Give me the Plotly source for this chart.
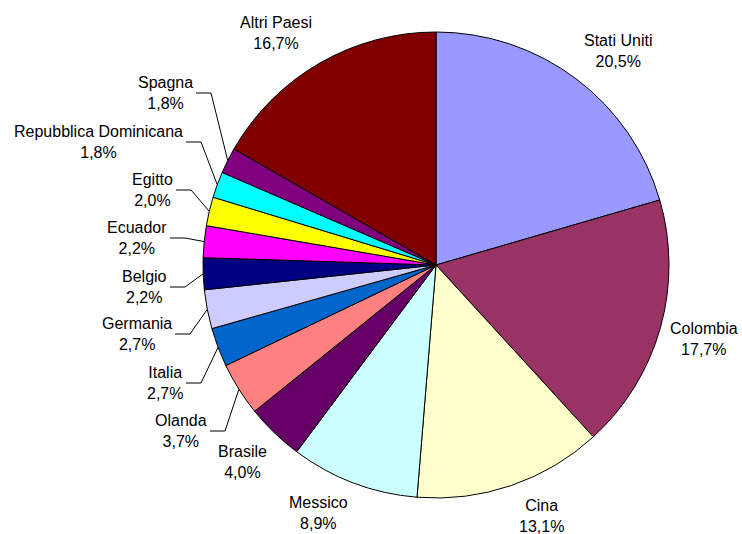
import math
import plotly.graph_objects as go

# ---- data ----
countries = ["Stati Uniti", "Colombia", "Cina", "Messico", "Brasile", "Olanda",
             "Italia", "Germania", "Belgio", "Ecuador", "Egitto",
             "Repubblica Dominicana", "Spagna", "Altri Paesi"]
shares = [20.5, 17.7, 13.1, 8.9, 4.0, 3.7, 2.7, 2.7, 2.2, 2.2, 2.0, 1.8, 1.8, 16.7]
colors = ["#9999FF", "#993366", "#FFFFCC", "#CCFFFF", "#660066", "#FF8080",
          "#0066CC", "#CCCCFF", "#000080", "#FF00FF", "#FFFF00",
          "#00FFFF", "#800080", "#800000"]

# ---- layout (pixels) ----
W, H = 742, 534
CX, CY, R = 436, 265, 233

# free labels: centre of the text block
free_labels = {
    "Stati Uniti": (618, 51),
    "Colombia": (704, 339),
    "Cina": (541, 516),
    "Messico": (318, 513),
    "Brasile": (242, 462),
    "Altri Paesi": (276, 33),
}
# labels with leader lines: (right edge of text, middle y)
leader_labels = {
    "Olanda": (208, 431),
    "Italia": (184, 383),
    "Germania": (173, 334),
    "Belgio": (168, 287),
    "Ecuador": (168, 238),
    "Egitto": (174, 190),
    "Repubblica Dominicana": (184, 142),
    "Spagna": (194, 93),
}


def px(x):
    return x / W


def py(y):
    return 1 - y / H


fig = go.Figure(go.Pie(
    labels=countries,
    values=shares,
    sort=False,
    direction="clockwise",
    rotation=0,
    marker=dict(colors=colors, line=dict(color="black", width=1)),
    textinfo="none",
    hoverinfo="label+percent",
    showlegend=False,
    domain=dict(x=[px(CX - R), px(CX + R)], y=[py(CY + R), py(CY - R)]),
))

total = sum(shares)
cum = 0.0
annotations = []
shapes = []
FONT = dict(family="Liberation Sans, Arial, sans-serif", size=16, color="black")
for name, v in zip(countries, shares):
    mid = (cum + v / 2) / total * 2 * math.pi
    cum += v
    text = f"{name}<br>{v:.1f}".replace(".", ",") + "%"
    if name in leader_labels:
        rx, my = leader_labels[name]
        ex = CX + R * math.sin(mid)
        ey = CY - R * math.cos(mid)
        path = (f"M {px(ex)},{py(ey)} L {px(rx + 17)},{py(my)} "
                f"L {px(rx + 2)},{py(my)}")
        shapes.append(dict(type="path", path=path, xref="paper", yref="paper",
                           line=dict(color="black", width=1)))
        annotations.append(dict(x=px(rx + 1), y=py(my), xref="paper", yref="paper",
                                text=text, showarrow=False, xanchor="right",
                                yanchor="middle", align="center", font=FONT))
    else:
        lx, ly = free_labels[name]
        annotations.append(dict(x=px(lx), y=py(ly), xref="paper", yref="paper",
                                text=text, showarrow=False, xanchor="center",
                                yanchor="middle", align="center", font=FONT))

fig.update_layout(
    width=W, height=H,
    margin=dict(l=0, r=0, t=0, b=0),
    paper_bgcolor="white",
    plot_bgcolor="white",
    annotations=annotations,
    shapes=shapes,
)

fig.write_html("out.html",
               config={"displayModeBar": False},
               post_script="document.body.style.margin='0';document.body.style.overflow='hidden';")
